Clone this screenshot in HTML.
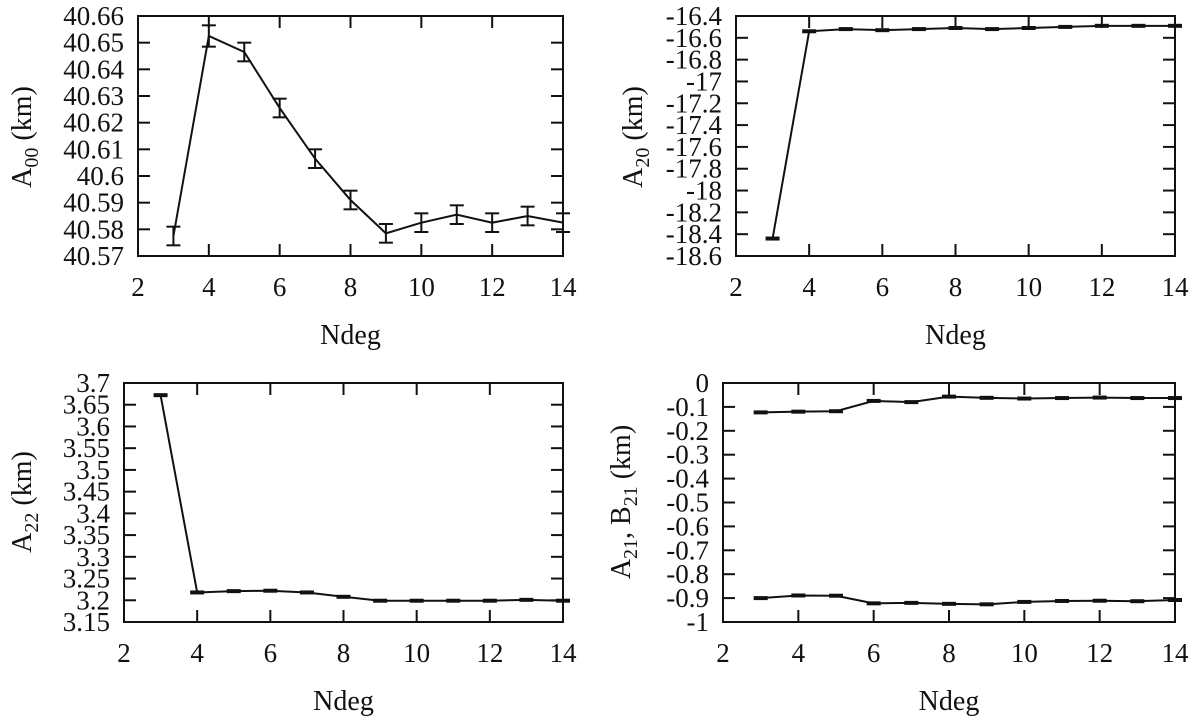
<!DOCTYPE html>
<html><head><meta charset="utf-8"><style>
html,body{margin:0;padding:0;background:#fff;}
svg{display:block;font-family:"Liberation Serif",serif;}
text{fill:#111;}
</style></head><body>
<svg id="fig" width="1200" height="724" viewBox="0 0 1200 724" xmlns="http://www.w3.org/2000/svg"></svg>
<script>
const ndeg = [3,4,5,6,7,8,9,10,11,12,13,14];
const xTicks = [2,4,6,8,10,12,14];
const a00 = [40.5775,40.6525,40.6465,40.6255,40.6065,40.591,40.5785,40.5825,40.5855,40.5825,40.585,40.5825];
const a00Err = [0.0035,0.004,0.0035,0.0035,0.0035,0.0035,0.0035,0.0035,0.0035,0.0035,0.0035,0.0035];
const a00Ticks = ["40.57","40.58","40.59","40.6","40.61","40.62","40.63","40.64","40.65","40.66"];
const a20 = [-18.44,-16.54,-16.52,-16.53,-16.52,-16.51,-16.52,-16.51,-16.50,-16.49,-16.49,-16.49];
const a20Ticks = ["-18.6","-18.4","-18.2","-18","-17.8","-17.6","-17.4","-17.2","-17","-16.8","-16.6","-16.4"];
const a22 = [3.672,3.218,3.221,3.222,3.218,3.208,3.199,3.199,3.199,3.199,3.201,3.199];
const a22Ticks = ["3.15","3.2","3.25","3.3","3.35","3.4","3.45","3.5","3.55","3.6","3.65","3.7"];
const a21 = [-0.123,-0.120,-0.118,-0.075,-0.080,-0.057,-0.062,-0.065,-0.063,-0.061,-0.063,-0.063];
const b21 = [-0.900,-0.889,-0.890,-0.922,-0.920,-0.924,-0.926,-0.916,-0.912,-0.911,-0.913,-0.908];
const a21Ticks = ["-1","-0.9","-0.8","-0.7","-0.6","-0.5","-0.4","-0.3","-0.2","-0.1","0"];

const NS="http://www.w3.org/2000/svg";
const svg=document.getElementById('fig');
function mk(tag,attrs,parent){const e=document.createElementNS(NS,tag);for(const k in attrs)e.setAttribute(k,attrs[k]);(parent||svg).appendChild(e);return e;}

function panel(name,L,R,T,B,ymin,ymax,yTicks,series,errs,ylab,labX,labY){
  const g=mk('g',{});
  
  
  const xs=v=>L+(v-2)/(14-2)*(R-L);
  const ys=v=>B-(v-ymin)/(ymax-ymin)*(B-T);
  const fr=mk('rect',{x:L,y:T,width:R-L,height:B-T,fill:'none',stroke:'#111','stroke-width':2},g);
  
  
  xTicks.forEach(t=>{
    const x=xs(t);
    mk('line',{x1:x,y1:B,x2:x,y2:B-12,stroke:'#111','stroke-width':2},g);
    mk('line',{x1:x,y1:T,x2:x,y2:T+12,stroke:'#111','stroke-width':2},g);
    const tx=mk('text',{x:x,y:B+40,'font-size':27,'text-anchor':'middle'},g);
    
    
    tx.textContent=t;
  });
  yTicks.forEach(s=>{
    const y=ys(parseFloat(s));
    mk('line',{x1:L,y1:y,x2:L+12,y2:y,stroke:'#111','stroke-width':2},g);
    mk('line',{x1:R,y1:y,x2:R-12,y2:y,stroke:'#111','stroke-width':2},g);
    const tx=mk('text',{x:L-14,y:y+9,'font-size':27,'text-anchor':'end'},g);
    
    
    tx.textContent=s;
  });
  series.forEach((vals,si)=>{
    const pts=vals.map((v,i)=>xs(ndeg[i])+','+ys(v)).join(' ');
    const pl=mk('polyline',{points:pts,fill:'none',stroke:'#111','stroke-width':2},g);
    
    
    vals.forEach((v,i)=>{
      const x=xs(ndeg[i]);
      const e=errs?errs[i]:0;
      if(e){
        const y1=ys(v-e),y2=ys(v+e);
        mk('line',{x1:x,y1:y1,x2:x,y2:y2,stroke:'#111','stroke-width':2},g);
        mk('line',{x1:x-7,y1:y1,x2:x+7,y2:y1,stroke:'#111','stroke-width':2},g);
        mk('line',{x1:x-7,y1:y2,x2:x+7,y2:y2,stroke:'#111','stroke-width':2},g);
      } else {
        const m=mk('line',{x1:x-7,y1:ys(v),x2:x+7,y2:ys(v),stroke:'#111','stroke-width':4},g);
        
        
      }
    });
  });
  const xl=mk('text',{x:(L+R)/2,y:B+88,'font-size':28,'text-anchor':'middle'},g);
  
  
  xl.textContent='Ndeg';
  const yl=mk('text',{x:0,y:0,'font-size':28,'text-anchor':'middle',transform:`translate(${labX},${labY}) rotate(-90)`},g);
  
  
  yl.innerHTML=ylab;
}
panel('panel-a00',138,563,16,256,40.57,40.66,a00Ticks,[a00],a00Err,'A<tspan font-size="20" dy="7">00</tspan><tspan dy="-7"> (km)</tspan>',31,137);
panel('panel-a20',736,1175,16,256,-18.6,-16.4,a20Ticks,[a20],null,'A<tspan font-size="20" dy="7">20</tspan><tspan dy="-7">  (km)</tspan>',642,137);
panel('panel-a22',124,563,383,622,3.15,3.7,a22Ticks,[a22],null,'A<tspan font-size="20" dy="7">22</tspan><tspan dy="-7">  (km)</tspan>',31,502);
panel('panel-a21-b21',723,1175,383,622,-1,0,a21Ticks,[a21,b21],null,'A<tspan font-size="20" dy="7">21</tspan><tspan dy="-7">, B</tspan><tspan font-size="20" dy="7">21</tspan><tspan dy="-7">  (km)</tspan>',630,502);
</script>
</body></html>
